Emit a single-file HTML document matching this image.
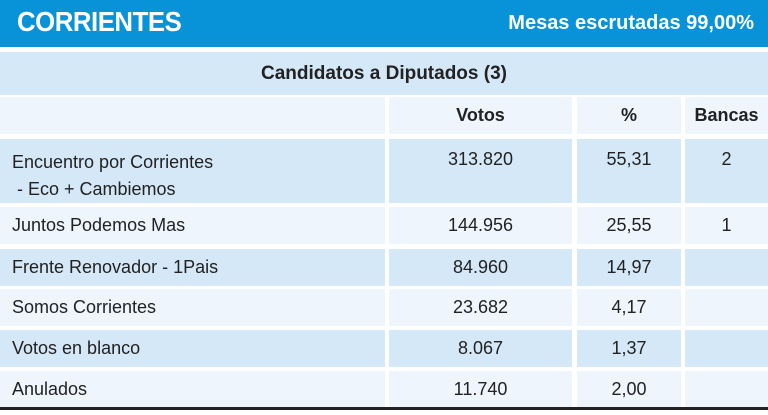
<!DOCTYPE html>
<html><head><meta charset="utf-8"><style>
body{margin:0;width:768px;height:415px;background:#fff;position:relative;overflow:hidden;font-family:"Liberation Sans Narrow","Liberation Sans",sans-serif;color:#222;}
div{position:absolute;box-sizing:border-box;}
.c{font-size:18px;display:flex;align-items:center;justify-content:center;}
.l{justify-content:flex-start;padding-left:12px;}
.b{background:#d5e8f8;}.w{background:#eef5fc;}
.t{align-items:flex-start;padding-top:10px;}
</style></head><body>
<div style="left:0;top:0;width:768px;height:47px;background:#0893d8;"></div>
<div style="left:17px;top:6px;color:#fff;font-family:'Liberation Sans',sans-serif;font-weight:bold;font-size:28px;letter-spacing:-0.5px;transform:scaleX(0.92);transform-origin:left;">CORRIENTES</div>
<div style="right:14px;top:12px;color:#fff;font-weight:bold;font-size:20px;">Mesas escrutadas 99,00%</div>
<div class="c b" style="left:0;top:52px;width:768px;height:43px;font-weight:bold;font-size:19px;">Candidatos a Diputados (3)</div>

<div class="c w" style="left:0;top:97px;width:385px;height:37px;"></div>
<div class="c w" style="left:389px;top:97px;width:183px;height:37px;font-weight:bold;">Votos</div>
<div class="c w" style="left:577px;top:97px;width:104px;height:37px;font-weight:bold;">%</div>
<div class="c w" style="left:685px;top:97px;width:83px;height:37px;font-weight:bold;">Bancas</div>

<div class="c b l t" style="left:0;top:139px;width:385px;height:64px;line-height:27px;display:block;">Encuentro por Corrientes<br>&nbsp;- Eco + Cambiemos</div>
<div class="c b t" style="left:389px;top:139px;width:183px;height:64px;">313.820</div>
<div class="c b t" style="left:577px;top:139px;width:104px;height:64px;">55,31</div>
<div class="c b t" style="left:685px;top:139px;width:83px;height:64px;">2</div>

<div class="c w l" style="left:0;top:207px;width:385px;height:37px;">Juntos Podemos Mas</div>
<div class="c w" style="left:389px;top:207px;width:183px;height:37px;">144.956</div>
<div class="c w" style="left:577px;top:207px;width:104px;height:37px;">25,55</div>
<div class="c w" style="left:685px;top:207px;width:83px;height:37px;">1</div>

<div class="c b l" style="left:0;top:249px;width:385px;height:37px;">Frente Renovador - 1Pais</div>
<div class="c b" style="left:389px;top:249px;width:183px;height:37px;">84.960</div>
<div class="c b" style="left:577px;top:249px;width:104px;height:37px;">14,97</div>
<div class="c b" style="left:685px;top:249px;width:83px;height:37px;"></div>

<div class="c w l" style="left:0;top:289px;width:385px;height:37px;">Somos Corrientes</div>
<div class="c w" style="left:389px;top:289px;width:183px;height:37px;">23.682</div>
<div class="c w" style="left:577px;top:289px;width:104px;height:37px;">4,17</div>
<div class="c w" style="left:685px;top:289px;width:83px;height:37px;"></div>

<div class="c b l" style="left:0;top:330px;width:385px;height:37px;">Votos en blanco</div>
<div class="c b" style="left:389px;top:330px;width:183px;height:37px;">8.067</div>
<div class="c b" style="left:577px;top:330px;width:104px;height:37px;">1,37</div>
<div class="c b" style="left:685px;top:330px;width:83px;height:37px;"></div>

<div class="c w l" style="left:0;top:371px;width:385px;height:36px;">Anulados</div>
<div class="c w" style="left:389px;top:371px;width:183px;height:36px;">11.740</div>
<div class="c w" style="left:577px;top:371px;width:104px;height:36px;">2,00</div>
<div class="c w" style="left:685px;top:371px;width:83px;height:36px;"></div>

<div style="left:0;top:407px;width:768px;height:3px;background:#222;"></div>
</body></html>
